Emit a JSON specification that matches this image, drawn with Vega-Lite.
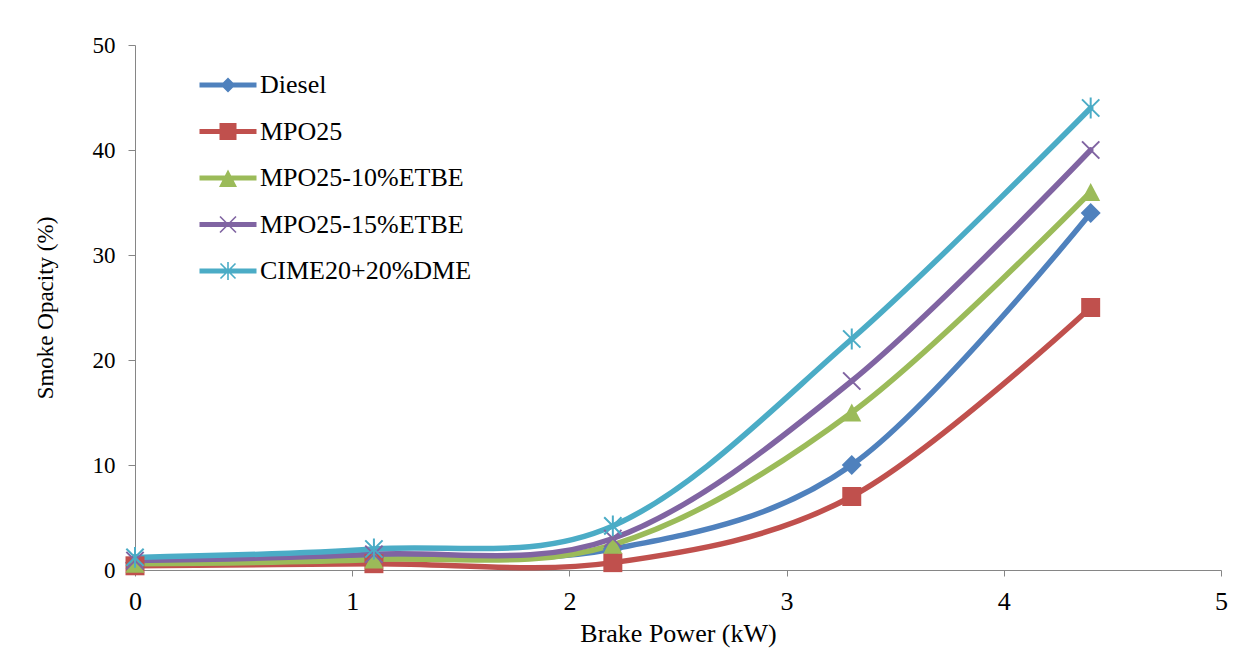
{
  "$schema": "https://vega.github.io/schema/vega-lite/v6.json",
  "width": 1086,
  "height": 525,
  "autosize": {"type": "none"},
  "padding": {"left": 135, "top": 45, "right": 27, "bottom": 102},
  "background": "white",
  "config": {
    "font": "Liberation Serif",
    "view": {"stroke": null},
    "legend": {"labelFont": "Liberation Serif", "labelFontSize": 26, "labelColor": "#000000"},
    "axis": {
      "grid": false,
      "domainColor": "#868686",
      "tickColor": "#868686",
      "tickSize": 6,
      "labelFont": "Liberation Serif",
      "labelColor": "#000000",
      "titleFont": "Liberation Serif",
      "titleFontWeight": "normal",
      "titleColor": "#000000"
    }
  },
  "data": {
    "values": [
      {"power": 0, "opacity": 0.7, "series": "Diesel"},
      {"power": 1.1, "opacity": 1.2, "series": "Diesel"},
      {"power": 2.2, "opacity": 2.0, "series": "Diesel"},
      {"power": 3.3, "opacity": 10, "series": "Diesel"},
      {"power": 4.4, "opacity": 34, "series": "Diesel"},
      {"power": 0, "opacity": 0.4, "series": "MPO25"},
      {"power": 1.1, "opacity": 0.6, "series": "MPO25"},
      {"power": 2.2, "opacity": 0.7, "series": "MPO25"},
      {"power": 3.3, "opacity": 7, "series": "MPO25"},
      {"power": 4.4, "opacity": 25, "series": "MPO25"},
      {"power": 0, "opacity": 0.6, "series": "MPO25-10%ETBE"},
      {"power": 1.1, "opacity": 1.0, "series": "MPO25-10%ETBE"},
      {"power": 2.2, "opacity": 2.4, "series": "MPO25-10%ETBE"},
      {"power": 3.3, "opacity": 15, "series": "MPO25-10%ETBE"},
      {"power": 4.4, "opacity": 36, "series": "MPO25-10%ETBE"},
      {"power": 0, "opacity": 0.9, "series": "MPO25-15%ETBE"},
      {"power": 1.1, "opacity": 1.5, "series": "MPO25-15%ETBE"},
      {"power": 2.2, "opacity": 3.0, "series": "MPO25-15%ETBE"},
      {"power": 3.3, "opacity": 18, "series": "MPO25-15%ETBE"},
      {"power": 4.4, "opacity": 40, "series": "MPO25-15%ETBE"},
      {"power": 0, "opacity": 1.2, "series": "CIME20+20%DME"},
      {"power": 1.1, "opacity": 2.0, "series": "CIME20+20%DME"},
      {"power": 2.2, "opacity": 4.2, "series": "CIME20+20%DME"},
      {"power": 3.3, "opacity": 22, "series": "CIME20+20%DME"},
      {"power": 4.4, "opacity": 44, "series": "CIME20+20%DME"}
    ]
  },
  "encoding": {
    "x": {
      "field": "power", "type": "quantitative",
      "scale": {"domain": [0, 5], "nice": false, "zero": false},
      "axis": {"values": [0, 1, 2, 3, 4, 5], "title": "Brake Power (kW)", "labelFontSize": 26, "titleFontSize": 26, "labelPadding": 12, "titlePadding": 6, "labelFlush": false}
    },
    "y": {
      "field": "opacity", "type": "quantitative",
      "scale": {"domain": [0, 50], "nice": false},
      "axis": {"values": [0, 10, 20, 30, 40, 50], "title": "Smoke Opacity (%)", "labelFontSize": 23, "titleFontSize": 23, "labelPadding": 13, "titlePadding": 35, "tickSize": 7, "labelFlush": false}
    }
  },
  "layer": [
    {
      "mark": {"type": "line", "interpolate": "cardinal", "tension": 0, "strokeWidth": 5.5, "strokeCap": "round", "strokeJoin": "round"},
      "encoding": {
        "stroke": {
          "field": "series", "type": "nominal",
          "scale": {
            "domain": ["CIME20+20%DME", "MPO25-15%ETBE", "MPO25-10%ETBE", "MPO25", "Diesel"],
            "range": ["#4BACC6", "#8064A2", "#9BBB59", "#C0504D", "#4F81BD"]
          },
          "legend": null
        }
      }
    },
    {
      "transform": [{"filter": "datum.series === 'Diesel'"}],
      "mark": {"type": "point", "shape": "diamond", "filled": true, "size": 400, "opacity": 1, "fill": "#4F81BD", "strokeWidth": 0}
    },
    {
      "transform": [{"filter": "datum.series === 'MPO25'"}],
      "mark": {"type": "point", "shape": "square", "filled": true, "size": 360, "opacity": 1, "fill": "#C0504D", "strokeWidth": 0}
    },
    {
      "transform": [{"filter": "datum.series === 'MPO25-10%ETBE'"}],
      "mark": {"type": "point", "shape": "M0,-0.9L0.95,0.9L-0.95,0.9Z", "filled": true, "size": 400, "opacity": 1, "fill": "#9BBB59", "strokeWidth": 0}
    },
    {
      "transform": [{"filter": "datum.series === 'MPO25-15%ETBE'"}],
      "mark": {"type": "point", "shape": "M-1,-1L1,1M-1,1L1,-1", "filled": false, "size": 300, "strokeWidth": 2, "opacity": 1, "stroke": "#8064A2"}
    },
    {
      "transform": [{"filter": "datum.series === 'CIME20+20%DME'"}],
      "mark": {"type": "point", "shape": "M-1,-1L1,1M-1,1L1,-1M0,-1.2L0,1.2", "filled": false, "size": 300, "strokeWidth": 2, "opacity": 1, "stroke": "#4BACC6"}
    },
    {
      "mark": {"type": "point", "filled": true, "size": 0, "opacity": 1},
      "encoding": {
        "color": {
          "field": "series", "type": "nominal",
          "scale": {
            "domain": ["Diesel", "MPO25", "MPO25-10%ETBE", "MPO25-15%ETBE", "CIME20+20%DME"],
            "range": ["#4F81BD", "#C0504D", "#9BBB59", "#8064A2", "#4BACC6"]
          },
          "legend": {
            "title": null,
            "orient": "none",
            "legendX": 80,
            "legendY": 27,
            "padding": 0,
            "symbolSize": 400,
            "labelOffset": 19,
            "labelFont": "Liberation Serif",
            "labelFontSize": 26,
            "labelColor": "#000000",
            "rowPadding": 20.5,
            "labelLimit": 400,
            "symbolOpacity": 1
          }
        },
        "shape": {
          "field": "series", "type": "nominal",
          "scale": {
            "domain": ["Diesel", "MPO25", "MPO25-10%ETBE", "MPO25-15%ETBE", "CIME20+20%DME"],
            "range": [
              "M-2.85,-0.25L2.85,-0.25L2.85,0.25L-2.85,0.25Z M0,-0.75L0.75,0L0,0.75L-0.75,0Z",
              "M-2.85,-0.25L2.85,-0.25L2.85,0.25L-2.85,0.25Z M-0.85,-0.85L0.85,-0.85L0.85,0.85L-0.85,0.85Z",
              "M-2.85,-0.25L2.85,-0.25L2.85,0.25L-2.85,0.25Z M0,-0.85L0.9,0.9L-0.9,0.9Z",
              "M-2.85,-0.25L2.85,-0.25L2.85,0.25L-2.85,0.25Z M-0.743,-0.857L0.857,0.743L0.743,0.857L-0.857,-0.743Z M-0.743,0.857L-0.857,0.743L0.743,-0.857L0.857,-0.743Z",
              "M-2.85,-0.25L2.85,-0.25L2.85,0.25L-2.85,0.25Z M-0.693,-0.807L0.807,0.693L0.693,0.807L-0.807,-0.693Z M-0.693,0.807L-0.807,0.693L0.693,-0.807L0.807,-0.693Z M-0.08,-0.9L0.08,-0.9L0.08,0.9L-0.08,0.9Z"
            ]
          },
          "legend": {
            "title": null,
            "orient": "none",
            "legendX": 80,
            "legendY": 27,
            "padding": 0,
            "symbolSize": 400,
            "labelOffset": 19,
            "labelFont": "Liberation Serif",
            "labelFontSize": 26,
            "labelColor": "#000000",
            "rowPadding": 20.5,
            "labelLimit": 400,
            "symbolOpacity": 1
          }
        }
      }
    }
  ]
}
